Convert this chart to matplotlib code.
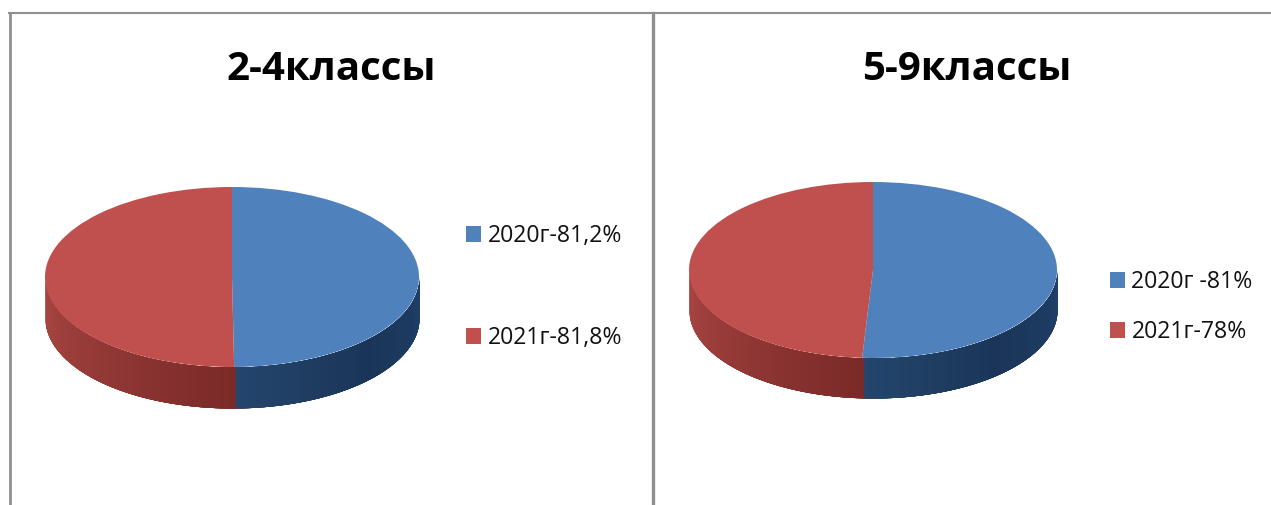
import numpy as np
import matplotlib
matplotlib.use("Agg")
import matplotlib.pyplot as plt
from matplotlib.lines import Line2D
from matplotlib.colors import to_rgb

W, H = 1271, 505
titles = ["2-4классы", "5-9классы"]
labels_left = ["2020г-81,2%", "2021г-81,8%"]
labels_right = ["2020г -81%", "2021г-78%"]
values_left = [81.2, 81.8]
values_right = [81, 78]
face_colors = ["#4F81BD", "#C0504D"]

plt.rcParams["font.family"] = ["Open Sans", "DejaVu Sans"]
fig = plt.figure(figsize=(W / 100, H / 100), dpi=100, facecolor="white")


def mix(a, b, t):
    a, b = np.array(to_rgb(a)), np.array(to_rgb(b))
    return tuple(a + (b - a) * t)


def draw_pie(values, cx, cy, rx, ry, depth):
    pad = 3
    ax = fig.add_axes([(cx - rx - pad) / W, 1 - (cy + ry + depth + pad) / H,
                       (2 * rx + 2 * pad) / W, (2 * ry + depth + 2 * pad) / H])
    frac = values[0] / sum(values)
    split_t = (90 - 360 * frac) % 360  # clockwise from twelve o'clock
    ts = np.linspace(180, 360, 181)
    for a, b in zip(ts[:-1], ts[1:]):
        mid = (a + b) / 2
        if mid < split_t:
            c = mix("#AB4744", "#7A2A28", (mid - 180) / max(split_t - 180, 1))
        else:
            c = mix("#24466C", "#1A3557", min((mid - split_t) / 45, 1))
            if mid > split_t + 45:
                c = mix("#1A3557", "#1F3F69", (mid - split_t - 45) / 45)
        t = np.radians(np.linspace(a, min(b + 5, 360), 8))
        ax.fill_between(np.cos(t), np.sin(t), np.sin(t) - depth / ry,
                        color=c, lw=0, zorder=1)
    wedges, _ = ax.pie(values, colors=face_colors, startangle=90, counterclock=False,
                       radius=1, wedgeprops=dict(linewidth=0, zorder=2))
    ax.set_aspect("auto")
    ax.set_xlim(-1 - pad / rx, 1 + pad / rx)
    ax.set_ylim(-1 - (depth + pad) / ry, 1 + pad / ry)
    ax.axis("off")
    return ax, wedges


def add_legend(ax, wedges, labels, x, y, gap):
    fs = 16.6
    px = fs * 100 / 72
    ax.legend(wedges, labels, loc="upper left", bbox_to_anchor=(x / W, 1 - y / H),
              bbox_transform=fig.transFigure, frameon=False, fontsize=fs,
              borderpad=0, borderaxespad=0, handlelength=15 / px,
              handleheight=15 / px, handletextpad=0.28,
              labelspacing=gap / px, labelcolor="#111111")


ax1, w1 = draw_pie(values_left, 232, 277, 187, 90, 41)
add_legend(ax1, w1, labels_left, 466, 224, 78)
ax2, w2 = draw_pie(values_right, 873, 270, 184, 88, 40)
add_legend(ax2, w2, labels_right, 1110, 270, 26)

fig.text(331 / W, 1 - 69 / H, titles[0], ha="center", va="center",
         fontsize=29, fontweight="bold", color="black")
fig.text(967 / W, 1 - 69 / H, titles[1], ha="center", va="center",
         fontsize=29, fontweight="bold", color="black")

border = "#8F8F8F"
tf = fig.transFigure
for xs, ys, lw in [((9.5, 9.5), (13, 505), 2.0), ((652.5, 652.5), (13, 505), 2.4), ((8.5, 1271), (13, 13), 1.5)]:
    fig.add_artist(Line2D([v / W for v in xs], [1 - v / H for v in ys],
                          color=border, lw=lw, transform=tf))

fig.savefig("out.png", dpi=100, facecolor="white")
